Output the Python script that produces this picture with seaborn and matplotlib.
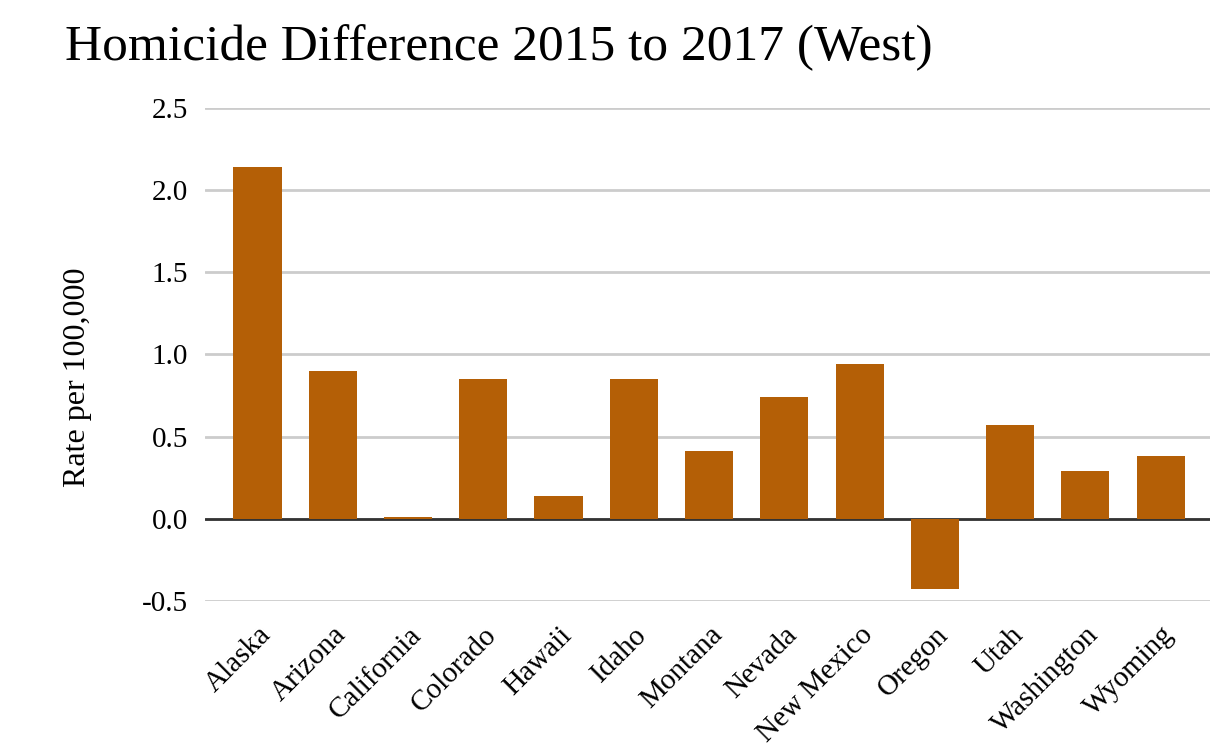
import matplotlib
matplotlib.use("Agg")
import matplotlib.pyplot as plt
import seaborn as sns
import pandas as pd

states = ["Alaska", "Arizona", "California", "Colorado", "Hawaii", "Idaho", "Montana",
          "Nevada", "New Mexico", "Oregon", "Utah", "Washington", "Wyoming"]
values = [2.14, 0.90, 0.01, 0.85, 0.14, 0.85, 0.41, 0.74, 0.94, -0.43, 0.57, 0.29, 0.38]
yticks = [-0.5, 0.0, 0.5, 1.0, 1.5, 2.0, 2.5]

sns.set_style("white")
plt.rcParams['font.family'] = ['Liberation Serif', 'DejaVu Serif']
plt.rcParams['text.color'] = 'black'
plt.rcParams['axes.labelcolor'] = 'black'
plt.rcParams['xtick.color'] = 'black'
plt.rcParams['ytick.color'] = 'black'

df = pd.DataFrame({"state": states, "value": values})

fig = plt.figure(figsize=(12.12, 7.53), dpi=100)
ax = fig.add_axes([0.169, 0.2019, 0.829, 0.6547])

sns.barplot(data=df, x="state", y="value", color="#B45F06", saturation=1,
            width=0.64, ax=ax, zorder=3, linewidth=0)

ax.set_ylim(-0.5, 2.5)
ax.set_xlim(-0.70, 12.65)
ax.set_yticks(yticks)
ax.set_yticklabels([f"{t:.1f}" for t in yticks], fontsize=21)
ax.yaxis.grid(True, color="#cccccc", linewidth=2, zorder=0)
ax.set_axisbelow(True)
ax.axhline(0, color="#333333", linewidth=2, zorder=2)
for s in ax.spines.values():
    s.set_visible(False)
ax.tick_params(axis="both", length=0)
ax.tick_params(axis="y", pad=12)

ax.set_xticks(range(len(states)))
ax.set_xticklabels(states, rotation=45, ha="right", rotation_mode="anchor", fontsize=21)
ax.tick_params(axis="x", pad=15)
ax.set_xlabel("")
ax.set_ylabel("Rate per 100,000", fontsize=23)
ax.yaxis.set_label_coords(-0.1125, 0.454)

fig.text(0.054, 0.92, "Homicide Difference 2015 to 2017 (West)", fontsize=37,
         ha="left", va="baseline")

fig.savefig("out.png", dpi=100)
